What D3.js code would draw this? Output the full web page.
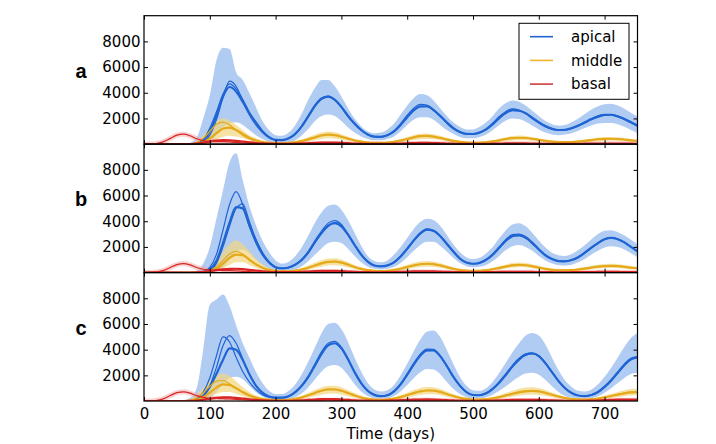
<!DOCTYPE html>
<html>
<head>
<meta charset="utf-8">
<script src="https://cdn.jsdelivr.net/npm/d3@7"></script>
<style>
  body { margin: 0; background: #fff; }
  text { font-family: "DejaVu Sans", sans-serif; }
</style>
</head>
<body>
<div id="chart"></div>
<script>
// time grid, one value every 10 days
var days = d3.range(0, 751, 10);
var xTicks = [0, 100, 200, 300, 400, 500, 600, 700];
var yTicks = [2000, 4000, 6000, 8000];
var seriesNames = ["apical", "middle", "basal"];
var panelLabels = ["a", "b", "c"];

// ---- panel a ----
var aApical1 = [0,0,0,0,0,0,0,0,40,250,
  1000,2200,3700,4450,4100,3300,2400,1700,1000,550,
  330,320,450,800,1400,2200,3000,3550,3700,3450,
  2900,2200,1600,1100,750,580,570,700,1000,1500,
  2100,2650,2950,2950,2650,2200,1700,1250,950,800,
  790,900,1150,1550,2050,2450,2650,2600,2400,2050,
  1700,1400,1200,1100,1120,1250,1450,1700,1950,2150,
  2280,2290,2150,1950,1700,1430];
var aApical2 = [0,0,0,0,0,0,0,0,20,150,
  700,1900,3600,4900,4500,3400,2300,1500,900,500,
  320,320,460,820,1450,2250,3050,3600,3750,3450,
  2850,2150,1550,1080,740,580,580,720,1050,1600,
  2250,2800,3100,3050,2700,2200,1650,1200,920,790,
  790,920,1200,1650,2150,2550,2750,2650,2400,2000,
  1650,1350,1150,1080,1100,1220,1400,1650,1900,2100,
  2250,2300,2200,2000,1750,1480];
var aApical3 = [0,0,0,0,0,0,0,0,70,350,
  1250,2500,3900,4700,4300,3500,2500,1700,1000,550,
  330,320,440,780,1380,2150,2950,3500,3680,3470,
  2920,2230,1620,1120,760,590,570,690,990,1480,
  2080,2600,2900,2920,2650,2230,1730,1280,970,810,
  800,890,1130,1520,2000,2400,2620,2600,2430,2100,
  1750,1440,1230,1120,1130,1250,1460,1720,1980,2200,
  2300,2280,2130,1930,1680,1410];
var aApicalHi = [0,0,0,0,0,0,20,100,500,2000,
  3800,6500,7500,7400,5600,5000,4000,2900,1800,1100,
  700,650,900,1500,2400,3500,4400,5000,5000,4500,
  3700,2800,2000,1400,1000,850,900,1150,1600,2300,
  3000,3600,3900,3800,3400,2800,2200,1700,1350,1150,
  1150,1350,1700,2200,2800,3200,3400,3300,3000,2600,
  2200,1800,1550,1450,1500,1700,2000,2350,2700,2950,
  3100,3150,3000,2750,2450,2150];
var aApicalLo = [0,0,0,0,0,0,0,0,0,0,
  200,700,1300,1600,1700,1500,1100,700,400,200,
  100,100,150,300,700,1200,1800,2200,2300,2200,
  1800,1300,900,600,400,300,300,400,600,1000,
  1500,1900,2100,2100,1900,1500,1100,800,550,450,
  450,550,750,1100,1500,1850,2000,1950,1750,1450,
  1150,900,750,700,750,850,1050,1250,1450,1600,
  1650,1650,1550,1350,1100,850];
var aMiddle1 = [0,0,0,0,0,0,0,0,30,150,
  450,850,1200,1280,1100,800,500,300,170,100,
  70,70,90,140,230,370,530,670,740,700,
  580,430,290,190,130,100,100,120,180,280,
  400,530,620,640,590,490,370,260,180,130,
  110,110,140,210,300,400,470,500,480,420,
  340,260,200,160,150,160,200,260,320,380,
  410,420,400,360,300,250];
var aMiddle2 = [0,0,0,0,0,0,0,20,120,450,
  1000,1550,1720,1500,1100,700,420,250,150,100,
  70,70,90,150,250,400,560,700,760,710,
  580,420,280,180,125,100,100,125,190,300,
  420,550,640,650,590,480,360,250,175,130,
  110,115,150,220,320,420,490,510,480,410,
  330,250,190,155,150,165,210,270,330,390,
  420,425,400,355,295,245];
var aMiddleHi = [0,0,0,0,0,0,10,60,250,700,
  1300,1800,2000,1850,1500,1100,700,450,280,180,
  130,130,160,240,380,560,750,900,980,920,
  780,590,410,280,200,160,160,190,270,400,
  560,710,810,830,770,650,500,360,260,200,
  170,180,220,300,420,540,630,670,640,560,
  460,360,280,230,220,240,290,360,440,510,
  550,560,530,480,410,340];
var aMiddleLo = [0,0,0,0,0,0,0,0,0,30,
  150,350,550,650,600,450,280,160,90,50,
  30,30,40,70,120,200,300,400,450,430,
  350,250,160,100,60,50,50,60,90,150,
  230,320,390,410,380,310,230,160,100,70,
  60,60,70,110,170,240,290,310,300,260,
  200,150,110,90,80,90,110,150,190,230,
  250,260,250,220,180,150];
var aBasal1 = [0,10,60,200,450,700,780,650,420,280,
  220,200,190,170,130,90,60,40,25,15,
  10,10,10,15,20,30,40,50,55,50,
  40,30,20,15,10,10,10,15,20,30,
  40,45,50,50,45,35,25,20,15,10,
  10,10,15,20,25,30,35,35,30,25,
  20,15,10,10,10,15,20,25,30,35,
  35,35,30,25,20,15];
var aBasal2 = [0,0,0,0,0,0,0,10,40,110,
  200,270,310,300,260,200,140,90,55,35,
  25,20,25,35,55,80,105,125,130,120,
  100,75,50,35,25,20,20,25,35,50,
  70,85,95,95,85,70,50,35,25,20,
  20,20,25,35,45,55,60,60,55,45,
  35,30,25,20,20,25,30,35,40,45,
  50,50,45,40,35,30];

// ---- panel b ----
var bApical1 = [0,0,0,0,0,0,0,0,0,30,
  250,900,2300,3900,5100,5000,3700,2500,1500,800,
  420,330,400,620,1000,1600,2400,3100,3650,3850,
  3600,2950,2150,1400,850,550,480,560,800,1250,
  1850,2500,3050,3350,3250,2850,2250,1650,1100,780,
  690,760,1000,1400,1950,2500,2850,2900,2700,2300,
  1800,1350,1050,900,880,980,1200,1550,1950,2300,
  2600,2700,2600,2350,2000,1650];
var bApical2 = [0,0,0,0,0,0,0,0,0,50,
  400,1400,3300,5300,6300,5300,3600,2300,1350,750,
  400,330,410,640,1050,1680,2500,3250,3850,4050,
  3750,3000,2150,1380,830,540,480,570,830,1300,
  1900,2550,3100,3400,3280,2850,2220,1620,1080,770,
  690,770,1020,1450,2020,2580,2950,3000,2750,2300,
  1780,1330,1040,900,890,1000,1230,1580,1980,2330,
  2620,2720,2620,2370,2010,1660];
var bApical3 = [0,0,0,0,0,0,0,0,0,20,
  150,700,2000,3600,5000,5350,4000,2600,1550,850,
  440,330,390,600,980,1560,2350,3050,3600,3900,
  3650,3000,2200,1430,870,560,480,550,790,1230,
  1820,2470,3020,3330,3260,2880,2290,1690,1130,790,
  690,750,980,1370,1900,2430,2800,2950,2800,2380,
  1850,1380,1070,910,880,970,1180,1520,1920,2270,
  2580,2690,2610,2360,2010,1640];
var bApicalHi = [0,0,0,0,0,0,0,30,150,700,
  2000,4200,6400,8600,9300,7200,5200,3700,2500,1600,
  950,700,850,1300,2000,2900,3900,4700,5200,5300,
  4900,4100,3100,2100,1300,900,800,950,1400,2000,
  2700,3400,3950,4200,4100,3650,2950,2200,1600,1200,
  1050,1150,1500,2000,2700,3300,3750,3850,3600,3100,
  2500,1950,1550,1350,1300,1450,1750,2150,2600,3000,
  3250,3300,3150,2900,2550,2200];
var bApicalLo = [0,0,0,0,0,0,0,0,0,0,
  0,100,400,1000,1600,1800,1500,1000,600,300,
  150,100,150,250,500,900,1400,1900,2300,2400,
  2300,1850,1300,800,450,300,250,300,450,750,
  1200,1700,2150,2400,2400,2100,1650,1150,750,500,
  420,450,600,900,1300,1750,2050,2150,2000,1700,
  1300,950,700,580,560,620,800,1050,1400,1700,
  1950,2050,2000,1800,1500,1200];
var bMiddle1 = [0,0,0,0,0,0,0,0,0,20,
  100,300,700,1150,1400,1350,1000,650,380,210,
  120,90,100,150,240,380,550,720,830,860,
  780,620,440,290,190,140,120,140,200,300,
  430,560,650,690,660,560,430,300,200,150,
  130,140,180,260,360,470,560,600,570,490,
  390,290,220,180,170,190,240,310,390,460,
  510,520,500,450,390,330];
var bMiddle2 = [0,0,0,0,0,0,0,0,10,50,
  150,450,950,1450,1650,1450,1050,650,380,210,
  120,90,100,155,250,390,570,740,850,880,
  790,620,440,290,190,140,120,145,210,310,
  440,570,660,700,660,555,425,295,200,150,
  130,145,190,270,375,490,580,610,570,485,
  385,285,215,180,170,195,245,320,400,470,
  520,530,505,450,385,325];
var bMiddleHi = [0,0,0,0,0,0,0,0,20,80,
  350,900,1600,2200,2500,2200,1700,1100,650,380,
  230,170,180,250,380,560,780,980,1100,1120,
  1020,820,600,410,280,220,200,230,310,450,
  610,760,860,900,860,740,580,420,300,230,
  200,220,280,380,510,640,740,780,740,650,
  530,410,320,270,260,290,350,440,540,620,
  670,680,650,590,520,450];
var bMiddleLo = [0,0,0,0,0,0,0,0,0,0,
  20,100,300,600,800,800,600,380,200,110,
  60,40,50,80,130,220,340,460,550,580,
  520,400,280,180,110,80,70,80,120,180,
  270,360,430,460,440,370,280,190,120,90,
  80,80,110,160,230,310,380,420,400,340,
  260,190,140,110,100,110,150,200,260,310,
  350,360,350,310,270,220];
var bBasal1 = [0,10,50,170,400,620,700,600,400,260,
  200,170,160,150,130,100,70,45,30,20,
  15,10,10,15,20,30,40,50,55,55,
  45,35,25,15,10,10,10,15,20,30,
  40,45,50,50,45,35,25,20,15,10,
  10,10,15,20,25,30,35,35,30,25,
  20,15,10,10,10,15,20,25,30,35,
  35,35,30,25,20,15];
var bBasal2 = [0,0,0,0,0,0,0,5,20,60,
  120,190,250,290,300,270,210,150,100,60,
  40,30,30,40,60,85,110,130,140,130,
  110,85,60,40,30,25,25,30,40,55,
  75,90,100,100,90,75,55,40,30,25,
  25,25,30,40,50,60,65,65,60,50,
  40,35,30,25,25,30,35,40,45,50,
  55,55,50,45,40,35];

// ---- panel c ----
var cApical1 = [0,0,0,0,0,0,0,0,60,400,
  1100,2100,3200,4100,4000,3200,2100,1200,650,350,
  260,260,380,700,1200,1900,2800,3700,4350,4500,
  4100,3250,2250,1400,800,480,380,450,750,1300,
  2050,2850,3550,3950,3950,3500,2750,1900,1200,700,
  470,450,600,950,1450,2050,2700,3250,3600,3700,
  3500,2950,2250,1550,1000,620,430,390,470,700,
  1100,1600,2200,2800,3250,3400];
var cApical2 = [0,0,0,0,0,0,0,0,150,700,
  1800,3500,5000,4600,3400,2300,1500,900,500,300,
  240,260,390,720,1250,1980,2900,3850,4500,4650,
  4200,3300,2250,1380,780,470,380,460,780,1350,
  2120,2950,3650,4050,4020,3540,2760,1890,1180,690,
  470,460,620,980,1500,2120,2780,3330,3680,3750,
  3520,2950,2230,1530,980,610,430,400,490,730,
  1150,1670,2280,2880,3330,3460];
var cApical3 = [0,0,0,0,0,0,0,0,50,350,
  1200,2600,4300,5100,4500,3300,2100,1200,650,350,
  260,260,370,690,1180,1870,2760,3650,4300,4480,
  4100,3260,2270,1420,810,490,380,440,740,1280,
  2020,2820,3520,3930,3940,3510,2760,1920,1210,710,
  470,450,590,940,1430,2020,2660,3200,3560,3690,
  3500,2960,2270,1570,1010,630,430,390,460,690,
  1080,1580,2170,2770,3220,3380];
var cApicalHi = [0,0,0,0,0,0,50,250,1000,4000,
  7500,7900,8300,7400,5900,4500,3400,2300,1400,800,
  550,550,800,1300,2100,3100,4200,5300,6000,6100,
  5600,4600,3400,2300,1400,900,750,850,1250,2000,
  2900,3900,4800,5400,5500,5000,4000,2900,1900,1200,
  850,800,1000,1500,2200,3000,3800,4500,5100,5300,
  5100,4400,3400,2400,1600,1100,800,750,900,1300,
  1900,2600,3400,4200,4900,5300];
var cApicalLo = [0,0,0,0,0,0,0,0,0,0,
  200,700,1300,1800,1900,1700,1200,700,350,150,
  80,80,150,300,600,1100,1700,2300,2700,2800,
  2600,2000,1300,750,400,220,180,220,400,750,
  1250,1800,2250,2500,2450,2100,1500,950,550,300,
  200,200,300,500,800,1150,1550,1900,2150,2200,
  2050,1650,1150,700,400,250,180,170,220,380,
  650,1000,1400,1800,2100,2200];
var cMiddle1 = [0,0,0,0,0,0,0,20,100,300,
  650,1050,1300,1250,1000,700,450,270,160,100,
  70,70,100,170,290,450,630,800,900,900,
  800,620,430,280,180,120,100,120,190,310,
  460,620,750,820,810,710,550,390,260,170,
  120,110,140,210,310,430,560,680,760,790,
  750,640,490,350,240,160,120,110,130,190,
  280,390,500,600,670,700];
var cMiddle2 = [0,0,0,0,0,0,0,50,250,650,
  1150,1550,1600,1350,1000,650,400,240,150,100,
  70,70,100,175,300,470,660,830,930,920,
  810,620,430,280,180,120,100,125,200,320,
  480,640,770,840,820,710,540,380,250,165,
  120,115,150,220,330,460,590,710,790,810,
  760,640,480,340,230,155,120,115,140,200,
  300,410,520,620,690,720];
var cMiddleHi = [0,0,0,0,0,0,20,150,500,1050,
  1600,2000,2150,1950,1550,1100,700,430,270,180,
  130,130,170,260,420,640,880,1080,1200,1200,
  1080,860,620,420,280,200,170,200,290,450,
  650,860,1020,1100,1080,950,750,540,370,250,
  190,180,220,310,450,620,800,950,1050,1080,
  1020,870,680,490,340,240,190,180,210,290,
  410,560,710,840,930,970];
var cMiddleLo = [0,0,0,0,0,0,0,0,20,100,
  300,550,700,700,550,380,230,130,70,40,
  30,30,50,90,160,260,380,500,570,580,
  500,380,250,150,90,60,50,60,100,170,
  270,380,470,530,520,450,340,230,140,90,
  60,55,70,110,170,250,340,420,480,500,
  470,390,290,200,130,80,60,55,70,100,
  160,230,310,380,430,450];
var cBasal1 = [0,10,60,190,430,650,720,620,420,280,
  220,200,180,160,130,100,70,45,30,20,
  15,10,10,15,25,35,50,60,65,60,
  50,35,25,15,10,10,10,15,25,35,
  45,55,60,60,55,45,35,25,15,10,
  10,10,15,20,30,40,45,50,50,45,
  35,25,15,10,10,10,15,20,30,40,
  50,55,60,60,60,55];
var cBasal2 = [0,0,0,0,0,0,0,10,40,100,
  180,250,290,280,240,190,140,90,60,40,
  25,20,25,40,60,90,120,145,155,145,
  120,90,60,40,30,25,25,30,45,65,
  85,105,120,125,115,95,70,50,35,25,
  20,25,30,40,55,70,85,95,100,95,
  85,65,45,30,25,20,20,25,35,50,
  70,90,105,115,120,120];

var panels = [
  {label: "a", apical: [aApical2, aApical3, aApical1], apicalBand: [aApicalLo, aApicalHi],
   middle: [aMiddle2, aMiddle1], middleBand: [aMiddleLo, aMiddleHi], basal: [aBasal1, aBasal2]},
  {label: "b", apical: [bApical2, bApical3, bApical1], apicalBand: [bApicalLo, bApicalHi],
   middle: [bMiddle2, bMiddle1], middleBand: [bMiddleLo, bMiddleHi], basal: [bBasal1, bBasal2]},
  {label: "c", apical: [cApical2, cApical3, cApical1], apicalBand: [cApicalLo, cApicalHi],
   middle: [cMiddle2, cMiddle1], middleBand: [cMiddleLo, cMiddleHi], basal: [cBasal1, cBasal2]}
];

var colors = {apical: "#1e64d4", middle: "#e4aa1a", basal: "#d82424"};
var legendColors = {apical: "#1e64d4", middle: "#f0b52c", basal: "#cf3b3b"};

var margin = {top: 15.7, left: 144};
var width = 493.5;
var panelH = 128.45;

var svg = d3.select("#chart")
  .append("svg")
  .attr("width", 716)
  .attr("height", 444);

var x = d3.scaleLinear().domain([0, 750]).range([0, width]);
var y = d3.scaleLinear().domain([0, 10000]).range([panelH, 0]);

var line = d3.line()
  .x(function(d, j) { return x(days[j]); })
  .y(function(d) { return y(d); })
  .curve(d3.curveMonotoneX);
var area = d3.area()
  .x(function(d, j) { return x(days[j]); })
  .y0(function(d) { return y(d[0]); })
  .y1(function(d) { return y(d[1]); })
  .curve(d3.curveMonotoneX);

panels.forEach(function(p, i) {
  var g = svg.append("g")
    .attr("transform", "translate(" + margin.left + "," + (margin.top + i * panelH) + ")");

  g.append("clipPath").attr("id", "clip" + i)
    .append("rect").attr("width", width).attr("height", panelH);
  var plot = g.append("g").attr("clip-path", "url(#clip" + i + ")");

  // shaded ensembles
  plot.append("path")
    .attr("d", area(d3.zip(p.apicalBand[0], p.apicalBand[1])))
    .attr("fill", "#a9c7f1")
    .attr("opacity", 0.9);
  plot.append("path")
    .attr("d", area(d3.zip(p.middleBand[0], p.middleBand[1])))
    .attr("fill", "#f4d680")
    .attr("opacity", 0.7);

  // pink halo round the early basal bump
  plot.append("path")
    .attr("d", line(p.basal[0]))
    .attr("fill", "none")
    .attr("stroke", "#f4a5a5")
    .attr("stroke-width", 5)
    .attr("opacity", 0.5);

  p.apical.forEach(function(s, k) {
    plot.append("path")
      .attr("d", line(s))
      .attr("fill", "none")
      .attr("stroke", colors.apical)
      .attr("stroke-width", k == 2 ? 2.2 : 1.2);
  });
  p.middle.forEach(function(s, k) {
    plot.append("path")
      .attr("d", line(s))
      .attr("fill", "none")
      .attr("stroke", colors.middle)
      .attr("stroke-width", k == 1 ? 2.2 : 1.2);
  });
  p.basal.forEach(function(s, k) {
    plot.append("path")
      .attr("d", line(s))
      .attr("fill", "none")
      .attr("stroke", colors.basal)
      .attr("stroke-width", k == 1 ? 2.2 : 1.2);
  });

  // axes, ticks pointing inwards
  g.append("g")
    .call(d3.axisLeft(y).tickValues(yTicks).tickSize(-4).tickPadding(3.5)
      .tickFormat(d3.format("d")));
  g.append("g").attr("transform", "translate(" + width + ",0)")
    .call(d3.axisRight(y).tickValues(yTicks).tickSize(-4).tickFormat(""));
  g.append("g")
    .call(d3.axisTop(x).tickValues(xTicks).tickSize(-4).tickFormat(""));
  g.append("g").attr("transform", "translate(0," + panelH + ")")
    .call(d3.axisBottom(x).tickValues(xTicks).tickSize(-4).tickPadding(7)
      .tickFormat(i == 2 ? d3.format("d") : ""));

  g.selectAll(".domain").remove();
  g.selectAll(".tick line").attr("stroke", "#000");
  g.selectAll(".tick text")
    .attr("fill", "#000")
    .style("font-size", "15px")
    .style("font-family", "'DejaVu Sans', sans-serif");

  g.append("rect")
    .attr("width", width)
    .attr("height", panelH)
    .attr("fill", "none")
    .attr("stroke", "#000")
    .attr("stroke-width", 1.2);

  // panel letter, left of the tick labels
  svg.append("text")
    .attr("x", 81)
    .attr("y", margin.top + i * panelH + 62)
    .attr("text-anchor", "middle")
    .style("font-family", "'Liberation Sans', Arial, sans-serif")
    .style("font-weight", "bold")
    .style("font-size", "20px")
    .text(p.label);
});

// x axis title
svg.append("text")
  .attr("x", margin.left + width / 2)
  .attr("y", 439)
  .attr("text-anchor", "middle")
  .style("font-size", "15px")
  .text("Time (days)");

// legend in panel a
var legend = svg.append("g").attr("transform", "translate(519,23.3)");
legend.append("rect")
  .attr("width", 110)
  .attr("height", 76)
  .attr("fill", "#fff")
  .attr("stroke", "#000")
  .attr("stroke-width", 1);
seriesNames.forEach(function(name, k) {
  var row = legend.append("g").attr("transform", "translate(0," + (13.4 + k * 23.7) + ")");
  row.append("line")
    .attr("x1", 11).attr("x2", 34)
    .attr("stroke", legendColors[name])
    .attr("stroke-width", 1.6);
  row.append("text")
    .attr("x", 52)
    .attr("dy", "0.35em")
    .style("font-size", "15px")
    .text(name);
});
</script>
</body>
</html>
